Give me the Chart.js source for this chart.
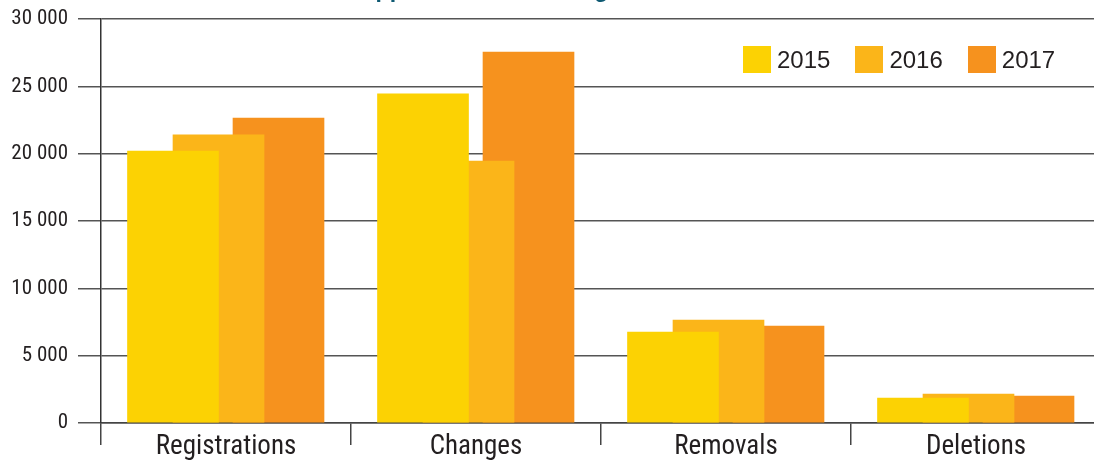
<!DOCTYPE html>
<html>
<head>
<meta charset="utf-8">
<script src="https://cdn.jsdelivr.net/npm/chart.js@4.4.1/dist/chart.umd.min.js"></script>
<style>
  html, body { margin: 0; padding: 0; overflow: hidden; background: #fff; }
  #wrap { position: relative; width: 1101px; height: 461px; }
  #title {
    position: absolute; left: 359px; top: -24px; line-height: 23px;
    font: bold 23px "Liberation Sans", Arial, sans-serif; color: #0f5a73; white-space: nowrap;
  }
  #legend {
    position: absolute; left: 743px; top: 46px; display: flex; gap: 25px;
    font: 24px "Liberation Sans", Arial, sans-serif; color: #231f20;
  }
  #legend .item { display: flex; align-items: center; height: 27px; line-height: 27px; }
  #legend .box { width: 28px; height: 27px; margin-right: 6px; }
</style>
</head>
<body>
<div id="wrap">
  <div id="title">Applications to the register</div>
  <canvas id="chart"></canvas>
  <div id="legend"></div>
</div>
<script>
// Data
const categories = ["Registrations", "Changes", "Removals", "Deletions"];
const years = ["2015", "2016", "2017"];
const values2015 = [20200, 24450, 6750, 1850];
const values2016 = [21400, 19450, 7650, 2150];
const values2017 = [22650, 27550, 7200, 2000];
const yTicks = [0, 5000, 10000, 15000, 20000, 25000, 30000];

const colors = ["#fcd203", "#fbb519", "#f6921e"];
// where each year's bar sits inside its category (fraction of a category width)
const shifts = [-0.212, -0.03, 0.21];

const narrow = '"Roboto Condensed", Roboto, sans-serif';
const ink = "#231f20";

const series = [values2015, values2016, values2017];

// Legend (html, sits inside the plot at top right)
const legendEl = document.getElementById("legend");
years.forEach((y, k) => {
  const item = document.createElement("div");
  item.className = "item";
  item.innerHTML = `<span class="box" style="background:${colors[k]}"></span><span>${y}</span>`;
  legendEl.appendChild(item);
});

const scales = {
  x: {
    type: "category",
    offset: true,
    grid: { offset: true, drawOnChartArea: false, drawTicks: true, tickLength: 22, color: "#444", lineWidth: 1.5 },
    border: { display: true, color: "#444", width: 1.5 },
    ticks: { font: { family: narrow, size: 27 }, color: ink, padding: -14, maxRotation: 0 },
    afterFit: s => { s.height = 38; }
  },
  y: {
    min: 0,
    max: 30000,
    afterBuildTicks: axis => { axis.ticks = yTicks.map(v => ({ value: v })); },
    ticks: {
      font: { family: narrow, size: 21 },
      color: ink,
      padding: 10,
      callback: v => String(v).replace(/\B(?=(\d{3})+(?!\d))/g, " ")
    },
    grid: { color: "#555", lineWidth: 1.5, tickLength: 23, drawTicks: true },
    border: { display: true, color: "#333", width: 1.5 },
    afterFit: s => {
      s.width = 101;
      // let layout.padding alone decide where the plot starts
      s.paddingTop = 0;
      s.paddingBottom = 0;
    }
  }
};

// one hidden linear axis per year, shifted so the bars overlap like the original
shifts.forEach((s, k) => {
  scales["x" + k] = {
    type: "linear",
    display: false,
    offset: false,
    min: -0.5 - s,
    max: categories.length - 0.5 - s
  };
});

const datasets = series.map((vals, k) => ({
  label: years[k],
  data: vals.map((v, i) => ({ x: i, y: v })),
  backgroundColor: colors[k],
  borderWidth: 0,
  barThickness: 91,
  grouped: false,
  xAxisID: "x" + k
}));

new Chart(document.getElementById("chart"), {
  type: "bar",
  data: { labels: categories, datasets },
  options: {
    responsive: true,
    maintainAspectRatio: false,
    animation: false,
    layout: { padding: { top: 19, right: 0, left: 0, bottom: 0 } },
    plugins: { legend: { display: false }, tooltip: { enabled: false } },
    scales
  }
});
</script>
</body>
</html>
